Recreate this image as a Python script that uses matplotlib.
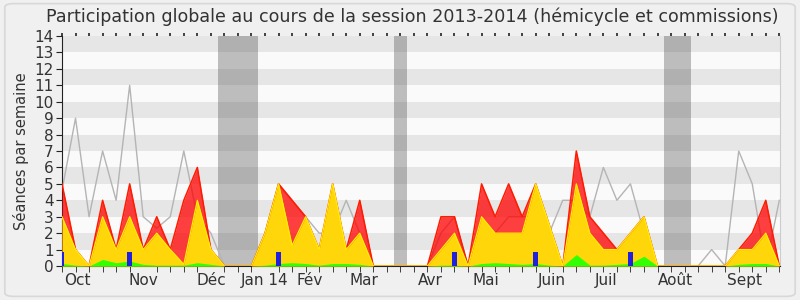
import matplotlib
matplotlib.use('Agg')
import matplotlib.pyplot as plt
import numpy as np
from matplotlib.patches import FancyBboxPatch

# Weekly data (week index 0 = start of session, Oct 2013)
weeks = list(range(54))
presence_total = [5, 1, 0, 4, 1, 5, 1, 3, 1, 4, 6, 1, 0, 0, 0, 2, 5, 4, 3, 1,
                  5, 1, 4, 0, 0, 0, 0, 0, 3, 3, 0, 5, 3, 5, 3, 5, 2.5, 0, 7, 3,
                  2, 1, 2, 3, 0, 0, 0, 0, 0, 0, 1, 2, 4, 0]
presence_commission = [3, 1, 0, 3, 1, 3, 1, 2, 1, 0.1, 4, 1, 0, 0, 0, 2, 5, 1.25, 3, 1,
                       5, 1, 2, 0, 0, 0, 0, 0, 1, 2, 0, 3, 2, 2, 2, 5, 2.5, 0, 5, 2,
                       1, 1, 2, 3, 0, 0, 0, 0, 0, 0, 1, 1, 2, 0]
interventions = [0.15, 0.05, 0, 0.4, 0.2, 0.3, 0.1, 0.05, 0.05, 0.05, 0.2, 0.1, 0, 0, 0, 0.05, 0.15, 0.2, 0.15, 0.05,
                 0.15, 0.15, 0.1, 0, 0, 0, 0, 0, 0.05, 0.05, 0, 0.15, 0.2, 0.15, 0.1, 0.15, 0.05, 0, 0.7, 0.05,
                 0.05, 0.1, 0.15, 0.6, 0, 0, 0, 0, 0, 0, 0.1, 0.15, 0.15, 0]
median_deputes = [4.6, 9, 3, 7, 4, 11, 3, 2.3, 3, 7, 3, 2, 0, 0, 0, 2, 5, 4, 3, 2,
                  2, 4, 2, 0, 0, 0, 0, 0, 2, 3, 0, 3, 2, 3, 3, 3, 2, 4, 4, 3,
                  6, 4, 5, 2, 0, 0, 0, 0, 1, 0, 7, 5, 0, 4]
questions = [0.85, 0, 0, 0, 0, 0.85, 0, 0, 0, 0, 0, 0, 0, 0, 0, 0, 0.85, 0, 0, 0,
             0, 0, 0, 0, 0, 0, 0, 0, 0, 0.85, 0, 0, 0, 0, 0, 0.85, 0, 0, 0, 0,
             0, 0, 0.85, 0, 0, 0, 0, 0, 0, 0, 0, 0, 0, 0]
vacances = [(11.5, 14.5), (24.5, 25.5), (44.5, 46.5)]
month_labels = ['Oct', 'Nov', 'Déc', 'Jan 14', 'Fév', 'Mar', 'Avr', 'Mai', 'Juin', 'Juil', 'Août', 'Sept']
month_pos = [1.15, 6.0, 11.0, 15.0, 18.3, 22.3, 27.2, 31.3, 36.2, 40.2, 45.3, 50.4]
title = 'Participation globale au cours de la session 2013-2014 (hémicycle et commissions)'
ylabel = 'Séances par semaine'

fig = plt.figure(figsize=(8, 3), dpi=100, facecolor='#f0f0f0')
border = FancyBboxPatch((0.006, 0.012), 0.988, 0.976, boxstyle='round,pad=0,rounding_size=0.012',
                        transform=fig.transFigure, facecolor='none', edgecolor='#d8d8d8', lw=1.2)
fig.patches.append(border)

ax = fig.add_axes([0.0775, 0.1133, 0.8975, 0.7667])
ax.set_facecolor('#fafafa')
ax.set_xlim(0, 53.05)
ax.set_ylim(0, 14)

# horizontal bands
for k in range(1, 14, 2):
    ax.axhspan(k, k + 1, color='#e6e6e6', lw=0, zorder=0)

# vacation spans
for a, b in vacances:
    ax.axvspan(a, b, color='#333333', alpha=0.3, lw=0, zorder=1)

x = np.array(weeks)
ax.plot(x, median_deputes, color='#b4b4b4', lw=1, zorder=2)
ax.fill_between(x, 0, presence_total, color='#ff0000', alpha=0.75, lw=0, zorder=3)
ax.plot(x, presence_total, color='#ff1a00', lw=1.1, zorder=3.5)
ax.fill_between(x, 0, presence_commission, color='#ffd60a', lw=0, zorder=4)
ax.plot(x, presence_commission, color='#ffee00', lw=0.9, zorder=4.5)
ax.fill_between(x, 0, interventions, color='#33ff00', lw=0, zorder=5)
ax.bar(x, questions, width=0.33, color='#2020dd', zorder=6)

# axes styling
ax.spines['top'].set_visible(False)
ax.spines['right'].set_color('#cccccc')
ax.spines['left'].set_color('#222222')
ax.spines['bottom'].set_color('#222222')

ax.set_yticks(range(0, 15))
ax.tick_params(axis='y', labelsize=11, length=4, color='#222222', labelcolor='#333333', pad=2)
ax.set_xticks(month_pos)
ax.set_xticklabels(month_labels)
ax.set_xticks(np.arange(0, 54), minor=True)
ax.tick_params(axis='x', which='major', length=0, labelsize=11, labelcolor='#333333', pad=5)
ax.tick_params(axis='x', which='minor', length=4, color='#222222', direction='out')

top = ax.secondary_xaxis('top')
top.set_xticks([])
top.set_xticks(np.arange(0, 54), minor=True)
top.tick_params(axis='x', which='minor', length=2, width=1.2, color='#222222', direction='out')
top.spines['top'].set_visible(False)

ax.set_ylabel(ylabel, fontsize=10.5, color='#333333', labelpad=4)
fig.text(0.515, 0.975, title, ha='center', va='top', fontsize=12.6, color='#333333')

fig.savefig('out.png', dpi=100, facecolor=fig.get_facecolor())
